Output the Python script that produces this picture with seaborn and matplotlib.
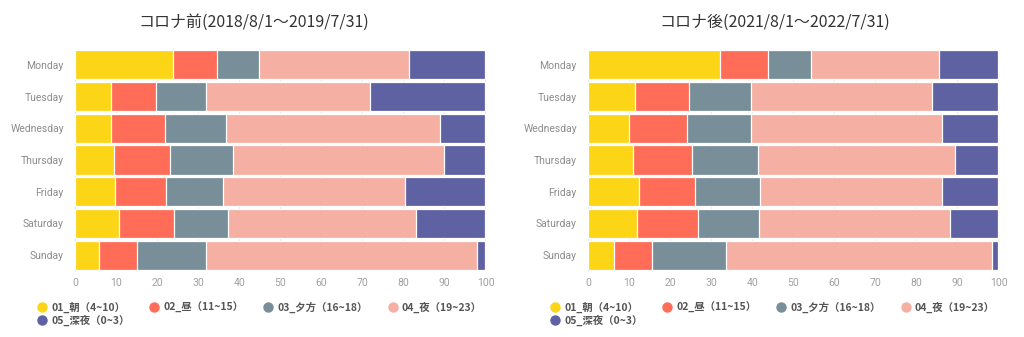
import numpy as np
import pandas as pd
import matplotlib
matplotlib.use("Agg")
import matplotlib.pyplot as plt
from matplotlib.lines import Line2D
import seaborn as sns

# Day-of-week rows
days = ["Monday", "Tuesday", "Wednesday", "Thursday", "Friday", "Saturday", "Sunday"]

# Time-of-day bands (legend labels)
bands = ["01_朝（4~10）", "02_昼（11~15）", "03_夕方（16~18）", "04_夜（19~23）", "05_深夜（0~3）"]
band_colors = ["#FBD516", "#FF6C57", "#788E99", "#F5B0A3", "#5E62A2"]

# Share (%) of each band per day, before COVID
before_morning = [23.9, 8.9, 8.9, 9.4, 9.8, 10.8, 5.8]
before_noon = [10.6, 10.9, 13.1, 13.7, 12.4, 13.3, 9.4]
before_evening = [10.3, 12.0, 14.8, 15.5, 13.8, 13.2, 16.6]
before_night = [36.5, 40.1, 52.2, 51.4, 44.4, 45.8, 66.2]
before_latenight = [18.7, 28.1, 11.0, 10.0, 19.6, 16.9, 2.0]

# Share (%) of each band per day, after COVID
after_morning = [32.1, 11.4, 10.0, 11.0, 12.4, 12.0, 6.3]
after_noon = [11.8, 13.3, 14.0, 14.3, 13.7, 14.7, 9.2]
after_evening = [10.5, 15.0, 15.7, 16.1, 15.7, 14.9, 18.0]
after_night = [31.1, 44.0, 46.6, 48.0, 44.4, 46.7, 65.0]
after_latenight = [14.5, 16.3, 13.7, 10.6, 13.8, 11.7, 1.5]

title_before = "コロナ前(2018/8/1～2019/7/31)"
title_after = "コロナ後(2021/8/1～2022/7/31)"
x_ticks = [0, 10, 20, 30, 40, 50, 60, 70, 80, 90, 100]

sns.set_theme(style="white")
plt.rcParams["font.family"] = ["Roboto", "Noto Sans CJK JP", "DejaVu Sans"]

fig = plt.figure(figsize=(10.24, 3.37), dpi=100)
ax_before = fig.add_axes([0.0732, 0.1988, 0.4033, 0.6528])
ax_after = fig.add_axes([0.5742, 0.1988, 0.4033, 0.6528])


def stacked(ax, series, title, title_x):
    df = pd.DataFrame({b: s for b, s in zip(bands, series)})
    df.insert(0, "day", days)
    cum = df[bands].cumsum(axis=1)
    # draw the longest cumulative bar first, shorter ones on top
    for band, color in reversed(list(zip(bands, band_colors))):
        sns.barplot(x=cum[band], y=df["day"], order=days, orient="h",
                    color=color, width=0.92, edgecolor="white", linewidth=0.9,
                    saturation=1, ax=ax, zorder=3)
    ax.set_xlim(0, 100.6)
    ax.set_ylim(6.47, -0.47)
    ax.set_xticks(x_ticks)
    ax.set_xlabel("")
    ax.set_ylabel("")
    ax.grid(axis="x", color="#E8E8E8", linewidth=0.8, zorder=0)
    ax.grid(axis="y", visible=False)
    for side in ["top", "right", "bottom"]:
        ax.spines[side].set_visible(False)
    ax.spines["left"].set_color("#DDDDDD")
    ax.spines["left"].set_linewidth(0.8)
    ax.tick_params(axis="x", length=0, pad=6, labelsize=7.5, labelcolor="#A0A0A0")
    ax.tick_params(axis="y", length=0, pad=8, labelsize=7.5, labelcolor="#8C8C8C")
    fig.text(title_x, 0.935, title, ha="center", va="center", fontsize=11.5,
             color="#333333", family=["Noto Sans CJK JP", "DejaVu Sans"])

    handles = [Line2D([0], [0], marker="o", linestyle="", markersize=6.5,
                      markerfacecolor=c, markeredgecolor=c) for c in band_colors]
    # legend fills column by column; order entries so it reads row by row
    order = [0, 4, 1, 2, 3]
    leg = ax.legend([handles[i] for i in order], [bands[i] for i in order],
                    ncol=4, loc="upper left",
                    bbox_to_anchor=(-0.102, -0.125), frameon=False,
                    handletextpad=0.35, columnspacing=1.9, labelspacing=0.2,
                    handlelength=1.0, borderaxespad=0,
                    prop={"family": ["Noto Sans CJK JP", "DejaVu Sans"],
                          "size": 7.5, "weight": "bold"})
    for t in leg.get_texts():
        t.set_color("#555555")


stacked(ax_before, [before_morning, before_noon, before_evening, before_night,
                    before_latenight], title_before, 0.248)
stacked(ax_after, [after_morning, after_noon, after_evening, after_night,
                   after_latenight], title_after, 0.757)

fig.savefig("out.png", dpi=100, facecolor="white")
